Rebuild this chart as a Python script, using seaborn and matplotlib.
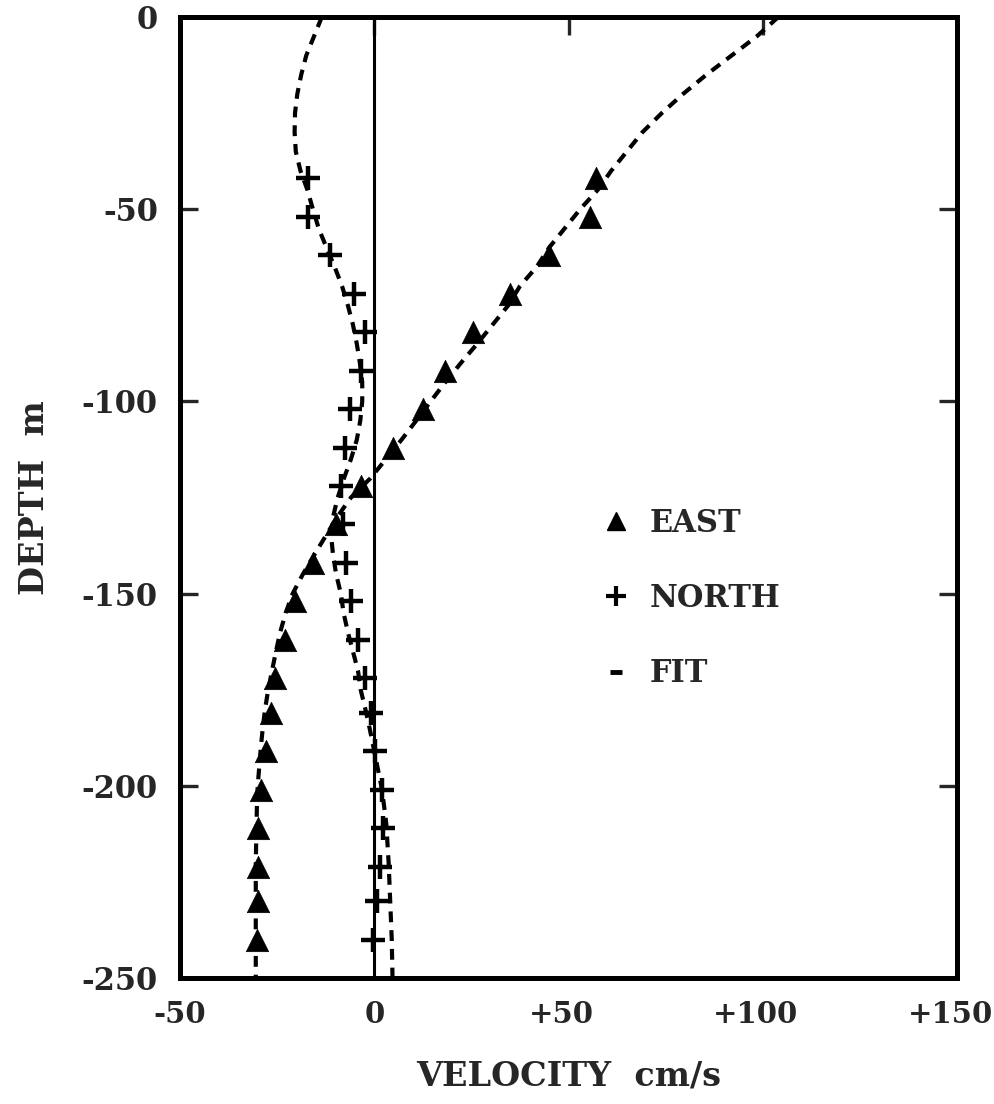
import matplotlib
matplotlib.use("Agg")
import matplotlib.pyplot as plt
from matplotlib.lines import Line2D
from matplotlib.transforms import ScaledTranslation
import seaborn as sns
import pandas as pd

# ---- data ----
depth_obs = [-42, -52, -62, -72, -82, -92, -102, -112, -122, -132, -142,
             -152, -162, -172, -181, -191, -201, -211, -221, -230, -240]
east_obs = [57.2, 55.6, 45.0, 35.0, 25.5, 18.3, 12.5, 4.8, -3.5, -9.9, -15.8,
            -20.5, -23.1, -25.6, -26.7, -27.8, -29.1, -29.9, -29.9, -29.9, -30.2]
north_obs = [-17.0, -17.0, -11.3, -5.2, -2.4, -3.5, -6.3, -7.6, -8.5, -8.1, -7.3,
             -6.0, -4.2, -2.4, -0.8, 0.2, 1.9, 2.3, 1.5, 0.6, -0.3]

depth_fit = [0, -5, -10, -15, -20, -25, -30, -35, -40, -45, -50, -55, -60, -65,
             -70, -75, -80, -85, -90, -95, -100, -105, -110, -115, -120, -125,
             -130, -135, -140, -145, -150, -155, -160, -165, -170, -175, -180,
             -185, -190, -195, -200, -205, -210, -215, -220, -225, -230, -235,
             -240, -245, -250]
east_fit = [104, 98.5, 92, 85.5, 79.5, 74, 69, 65, 61, 57.5, 53, 49, 45, 41.8,
            37.5, 34.5, 30.5, 26.5, 22.3, 18.3, 14.5, 10.8, 7, 3, -1, -6,
            -9.5, -12.5, -15.5, -18.4, -21, -22.8, -24.2, -25.3, -26.3, -27.3, -28.1,
            -28.7, -29.2, -29.6, -30, -30.2, -30.3, -30.4, -30.5, -30.5, -30.5, -30.5,
            -30.5, -30.5, -30.5]
north_fit = [-13.5, -15.5, -17.5, -18.8, -19.8, -20.4, -20.5, -20.2, -19.0, -17.2,
             -15.8, -14.3, -12.3, -10.2, -8.3, -6.8, -5.5, -4.5, -3.7, -3.1, -3.1,
             -3.6, -4.5, -6.0, -7.8, -9.4, -10.6, -11.1, -10.6, -9.8, -8.6, -7.9,
             -6.8, -5.5, -4.2, -3.5, -2.3, -1.2, -0.2, 0.8, 1.8, 2.5, 3.1, 3.4,
             3.7, 3.9, 4.1, 4.3, 4.5, 4.6, 4.7]

x_ticks = [-50, 0, 50, 100, 150]
x_ticklabels = ["-50", "0", "+50", "+100", "+150"]
y_ticks = [0, -50, -100, -150, -200, -250]
y_ticklabels = ["0", "-50", "-100", "-150", "-200", "-250"]
legend_labels = ["EAST", "NORTH", "FIT"]

obs = pd.DataFrame({"depth": depth_obs, "east": east_obs, "north": north_obs})
fit = pd.DataFrame({"depth": depth_fit, "east": east_fit, "north": north_fit})

sns.set_style("ticks")
plt.rcParams["font.family"] = ["DejaVu Serif"]
plt.rcParams["font.weight"] = "bold"

fig = plt.figure(figsize=(9.94, 11.04), dpi=100)
ax = fig.add_axes([0.1811, 0.1141, 0.7817, 0.8705])

# zero velocity reference line
ax.axvline(0, color="black", lw=2.2, zorder=1)

# fitted profiles (dashed)
for col in ["east", "north"]:
    sns.lineplot(data=fit, x=col, y="depth", sort=False, estimator=None,
                 color="black", lw=3.0, ax=ax, zorder=2)
for l in ax.lines[1:]:
    l.set_dashes([2.6, 1.9])

# observations
sns.scatterplot(data=obs, x="east", y="depth", marker="^", s=260,
                color="black", edgecolor="black", linewidth=0.5, ax=ax, zorder=3)
sns.scatterplot(data=obs, x="north", y="depth", marker="+", s=280,
                color="black", linewidth=3.2, ax=ax, zorder=3)

ax.set_xlim(-50, 150)
ax.set_ylim(-250, 0)
ax.set_xticks(x_ticks)
ax.set_xticklabels(x_ticklabels)
ax.set_yticks(y_ticks)
ax.set_yticklabels(y_ticklabels)

for sp in ax.spines.values():
    sp.set_linewidth(3.6)
    sp.set_color("black")

ax.tick_params(axis="both", which="both", direction="in", length=13, width=2.4,
               top=True, right=True, bottom=False, pad=16)
ax.tick_params(axis="x", labelsize=21)
ax.tick_params(axis="y", labelsize=22)
for lab in ax.get_xticklabels() + ax.get_yticklabels():
    lab.set_fontweight("bold")
# the printed labels sit slightly left of their ticks
shift = ScaledTranslation(-7 / 100, 0, fig.dpi_scale_trans)
for lab in ax.get_xticklabels()[2:]:
    lab.set_transform(lab.get_transform() + shift)

ax.set_xlabel("VELOCITY  cm/s", fontsize=24, fontweight="bold", labelpad=22)
ax.set_ylabel("DEPTH  m", fontsize=24, fontweight="bold", labelpad=22)

handles = [
    Line2D([], [], ls="", marker="^", ms=13, color="black"),
    Line2D([], [], ls="", marker="+", ms=14, mew=3, color="black"),
    Line2D([], [], ls="", marker="_", ms=8, mew=3.5, color="black"),
]
leg = ax.legend(handles, legend_labels, loc="upper left",
                bbox_to_anchor=(0.506, 0.518), frameon=False,
                prop={"size": 22, "weight": "bold"}, labelspacing=1.45,
                handlelength=1.0, handletextpad=0.6)

fig.savefig("out.png", dpi=100)
